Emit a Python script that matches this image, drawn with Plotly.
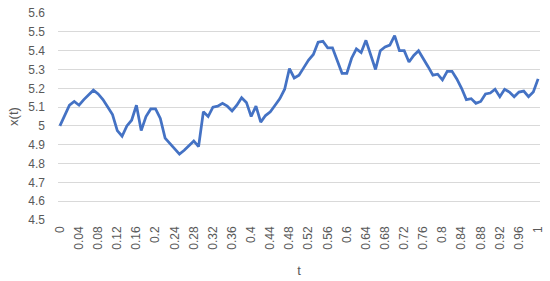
import plotly.graph_objects as go

# time steps (category axis)
t = [0.00, 0.01, 0.02, 0.03, 0.04, 0.05, 0.06, 0.07, 0.08, 0.09,
     0.10, 0.11, 0.12, 0.13, 0.14, 0.15, 0.16, 0.17, 0.18, 0.19,
     0.20, 0.21, 0.22, 0.23, 0.24, 0.25, 0.26, 0.27, 0.28, 0.29,
     0.30, 0.31, 0.32, 0.33, 0.34, 0.35, 0.36, 0.37, 0.38, 0.39,
     0.40, 0.41, 0.42, 0.43, 0.44, 0.45, 0.46, 0.47, 0.48, 0.49,
     0.50, 0.51, 0.52, 0.53, 0.54, 0.55, 0.56, 0.57, 0.58, 0.59,
     0.60, 0.61, 0.62, 0.63, 0.64, 0.65, 0.66, 0.67, 0.68, 0.69,
     0.70, 0.71, 0.72, 0.73, 0.74, 0.75, 0.76, 0.77, 0.78, 0.79,
     0.80, 0.81, 0.82, 0.83, 0.84, 0.85, 0.86, 0.87, 0.88, 0.89,
     0.90, 0.91, 0.92, 0.93, 0.94, 0.95, 0.96, 0.97, 0.98, 0.99,
     1.00]

# x(t)
x = [5.00, 5.06, 5.11, 5.13, 5.11, 5.14, 5.165, 5.19, 5.17, 5.14,
     5.10, 5.06, 4.975, 4.945, 5.00, 5.03, 5.11, 4.975, 5.05, 5.09,
     5.09, 5.04, 4.935, 4.905, 4.875, 4.85, 4.87, 4.895, 4.92, 4.89,
     5.075, 5.05, 5.10, 5.105, 5.12, 5.105, 5.08, 5.11, 5.15, 5.125,
     5.05, 5.105, 5.02, 5.055, 5.075, 5.11, 5.145, 5.195, 5.305, 5.255,
     5.27, 5.31, 5.35, 5.38, 5.445, 5.45, 5.415, 5.415, 5.35, 5.28,
     5.28, 5.36, 5.41, 5.39, 5.455, 5.375, 5.30, 5.40, 5.42, 5.43,
     5.48, 5.40, 5.40, 5.34, 5.375, 5.40, 5.36, 5.315, 5.27, 5.275,
     5.245, 5.29, 5.29, 5.25, 5.20, 5.14, 5.145, 5.12, 5.13, 5.17,
     5.175, 5.195, 5.155, 5.195, 5.18, 5.155, 5.18, 5.185, 5.155, 5.18,
     5.25]

tick_vals = [0, 0.04, 0.08, 0.12, 0.16, 0.2, 0.24, 0.28, 0.32, 0.36, 0.4, 0.44, 0.48,
             0.52, 0.56, 0.6, 0.64, 0.68, 0.72, 0.76, 0.8, 0.84, 0.88, 0.92, 0.96, 1]
tick_text = ["0", "0.04", "0.08", "0.12", "0.16", "0.2", "0.24", "0.28", "0.32", "0.36",
             "0.4", "0.44", "0.48", "0.52", "0.56", "0.6", "0.64", "0.68", "0.72", "0.76",
             "0.8", "0.84", "0.88", "0.92", "0.96", "1"]
y_ticks = [4.5, 4.6, 4.7, 4.8, 4.9, 5.0, 5.1, 5.2, 5.3, 5.4, 5.5, 5.6]
y_text = ["4.5", "4.6", "4.7", "4.8", "4.9", "5", "5.1", "5.2", "5.3", "5.4", "5.5", "5.6"]

grey = "#595959"

fig = go.Figure(go.Scatter(
    x=t, y=x, mode="lines",
    line=dict(color="#4472C4", width=2.75),
))

fig.update_layout(
    width=550, height=281,
    margin=dict(l=58, r=10, t=13, b=61),
    paper_bgcolor="white", plot_bgcolor="white",
    font=dict(family="Liberation Sans, Arial, sans-serif", size=12, color=grey),
    showlegend=False,
)

fig.update_xaxes(
    range=[-0.004, 1.004], automargin=False,
    tickvals=tick_vals, ticktext=tick_text, tickangle=-90,
    showgrid=False, zeroline=False, showline=False,
    ticks="", ticklabelstandoff=3,
    title=dict(text="t", font=dict(size=13, color=grey), standoff=17),
)

fig.update_yaxes(
    range=[4.4995, 5.6005], automargin=False,
    tickvals=y_ticks, ticktext=y_text,
    showgrid=True, gridcolor="#d9d9d9", gridwidth=1,
    zeroline=False, showline=False, ticks="", ticklabelstandoff=12,
    title=dict(text="x(t)", font=dict(size=13, color=grey), standoff=6),
)

# drop the browser's default 8px body margin so the figure fills the window
fig.write_html("out.html", config={"displayModeBar": False},
               post_script="document.body.style.margin='0';")
